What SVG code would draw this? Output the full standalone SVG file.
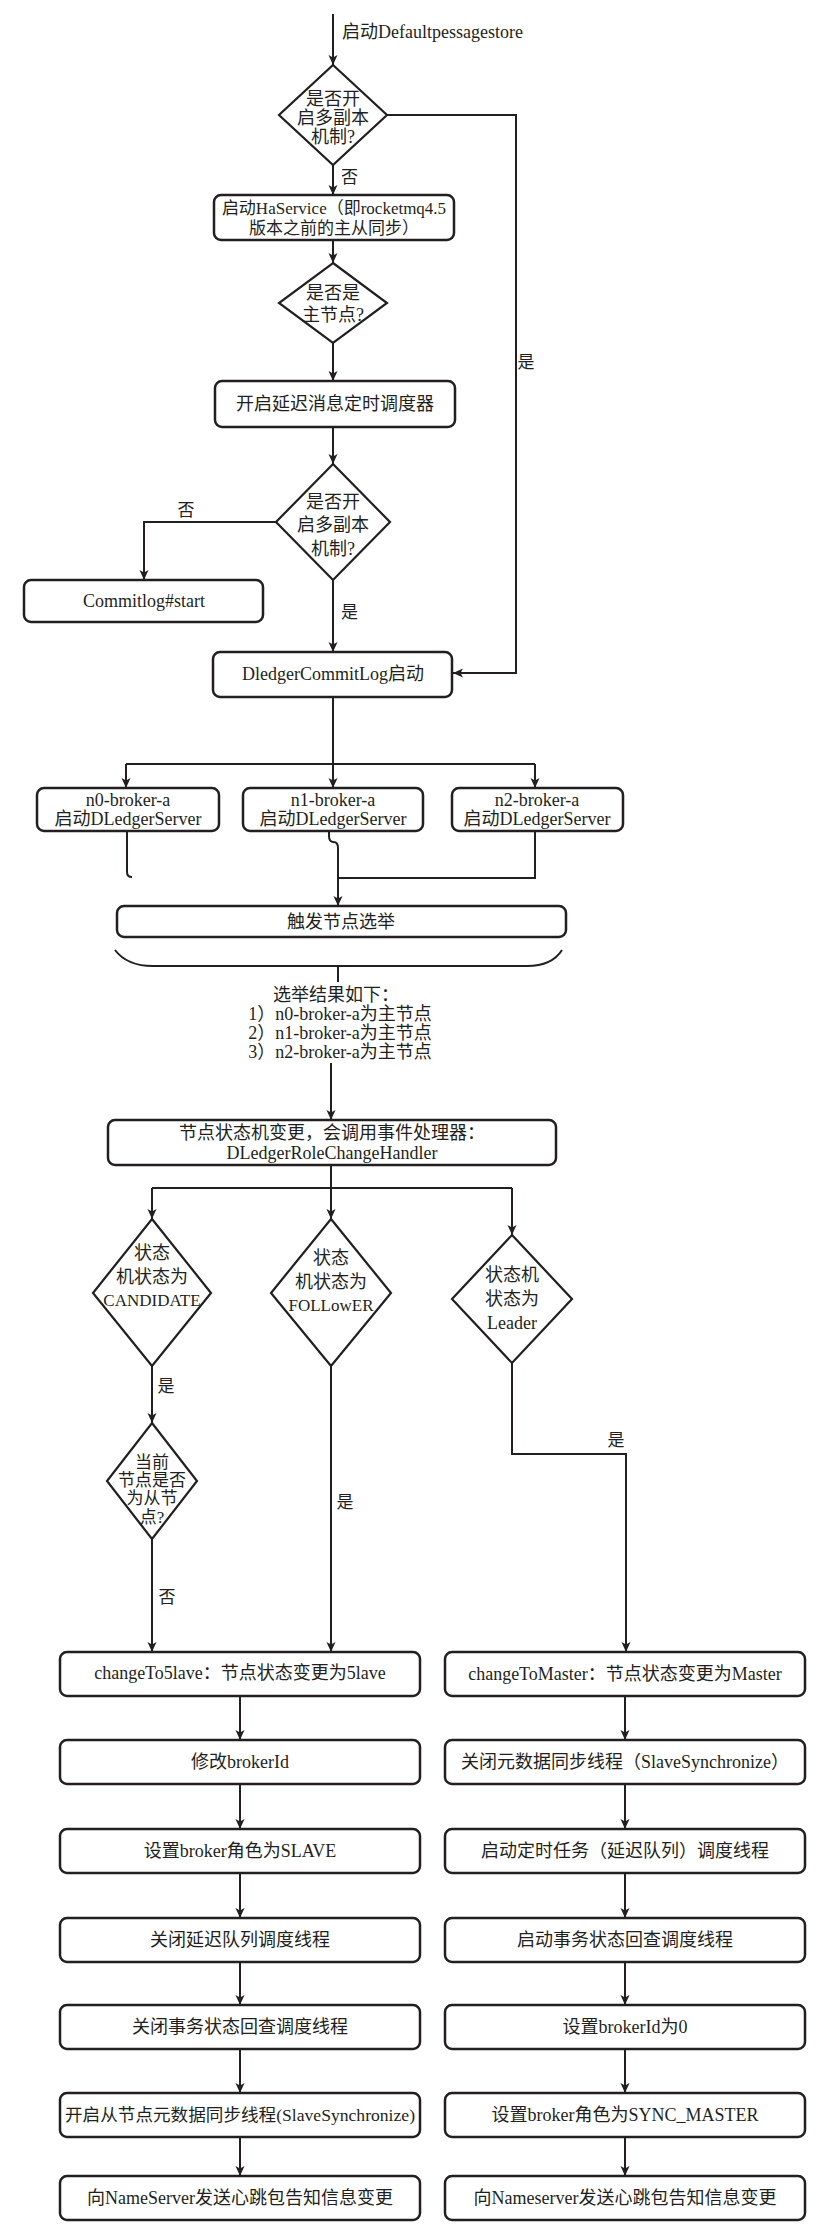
<svg xmlns="http://www.w3.org/2000/svg" width="824" height="2231" viewBox="0 0 824 2231">
<defs>
<marker id="ah" markerUnits="userSpaceOnUse" markerWidth="12" markerHeight="12" refX="10" refY="5" orient="auto">
<path d="M0,0.5 L10,5 L0,9.5 L2.5,5 Z" fill="#231f20"/>
</marker>
<style>
text{font-family:"Liberation Serif","Noto Sans CJK SC",serif;font-size:18px;fill:#231f20;dominant-baseline:central;text-anchor:middle}
.s{text-anchor:start}
.l{font-size:17px}
.box{fill:#fff;stroke:#231f20;stroke-width:2.5}
.dia{fill:#fff;stroke:#231f20;stroke-width:2.2}
.c{fill:none;stroke:#231f20;stroke-width:2}
.ca{fill:none;stroke:#231f20;stroke-width:2;marker-end:url(#ah)}
</style>
</defs>
<rect width="824" height="2231" fill="#fff"/>

<g id="connectors">
<path class="ca" d="M333,14 V65"/>
<path class="ca" d="M333,165 V195"/>
<path class="ca" d="M333,240 V263"/>
<path class="ca" d="M333,343 V381"/>
<path class="ca" d="M333,427 V464"/>
<path class="ca" d="M276,522 H144 V580"/>
<path class="ca" d="M333,580 V652"/>
<path class="ca" d="M387,115 H516 V673 H453"/>
<path class="c" d="M333,697 V764"/>
<path class="c" d="M126,764 H535"/>
<path class="ca" d="M126,764 V788"/>
<path class="ca" d="M333,764 V788"/>
<path class="ca" d="M535,764 V788"/>
<path class="c" d="M127,831 V872 Q127,877 132,877"/>
<path class="ca" d="M329,831 V836 Q329,842 333.5,842 Q338,842 338,848 V906"/>
<path class="c" d="M535,831 V878 H338"/>
<path class="c" d="M115,950 Q127,966 153,966 H527 Q552,966 562,950"/>
<path class="c" d="M338,966 V982"/>
<path class="ca" d="M331,1063 V1120"/>
<path class="c" d="M331,1165 V1188"/>
<path class="c" d="M152,1188 H512"/>
<path class="ca" d="M152,1188 V1219"/>
<path class="ca" d="M331,1188 V1219"/>
<path class="ca" d="M512,1188 V1235"/>
<path class="ca" d="M152,1366 V1423"/>
<path class="ca" d="M152,1539 V1652"/>
<path class="ca" d="M331,1366 V1652"/>
<path class="ca" d="M512,1363 V1454 H626 V1652"/>
<path class="ca" d="M240,1696 V1740"/>
<path class="ca" d="M240,1784 V1829"/>
<path class="ca" d="M240,1873 V1918"/>
<path class="ca" d="M240,1962 V2005"/>
<path class="ca" d="M240,2049 V2093"/>
<path class="ca" d="M240,2137 V2176"/>
<path class="ca" d="M625,1696 V1740"/>
<path class="ca" d="M625,1784 V1829"/>
<path class="ca" d="M625,1873 V1918"/>
<path class="ca" d="M625,1962 V2005"/>
<path class="ca" d="M625,2049 V2093"/>
<path class="ca" d="M625,2137 V2176"/>
<text class="s" x="342" y="32">启动Defaultpessagestore</text>
<text class="s l" x="341" y="177">否</text>
<text class="l" x="186" y="510">否</text>
<text class="s l" x="341" y="612">是</text>
<text class="l" x="526" y="362">是</text>
<text class="l" x="166" y="1386">是</text>
<text class="l" x="167" y="1597">否</text>
<text class="l" x="345" y="1502">是</text>
<text class="l" x="616" y="1440">是</text>
</g>

<g id="d1">
<polygon class="dia" points="333,65 387,115 333,165 279,115"/>
<text x="333" y="99">是否开</text>
<text x="333" y="118">启多副本</text>
<text x="333" y="137">机制?</text>
</g>
<g id="haservice">
<rect class="box" x="214" y="195" width="240" height="45" rx="7"/>
<text class="l" x="334" y="208">启动HaService（即rocketmq4.5</text>
<text class="l" x="334" y="228">版本之前的主从同步）</text>
</g>
<g id="d2">
<polygon class="dia" points="333,263 387,303 333,343 279,303"/>
<text x="333" y="293">是否是</text>
<text x="333" y="315">主节点?</text>
</g>
<g id="delay">
<rect class="box" x="215" y="381" width="240" height="46" rx="7"/>
<text x="335" y="404">开启延迟消息定时调度器</text>
</g>
<g id="d3">
<polygon class="dia" points="333,464 390,522 333,580 276,522"/>
<text x="333" y="502">是否开</text>
<text x="333" y="525">启多副本</text>
<text x="333" y="549">机制?</text>
</g>
<g id="commitlog">
<rect class="box" x="24" y="580" width="239" height="42" rx="7"/>
<text x="144" y="601">Commitlog#start</text>
</g>
<g id="dledger">
<rect class="box" x="213" y="652" width="239" height="45" rx="7"/>
<text x="333" y="674">DledgerCommitLog启动</text>
</g>
<g id="n0">
<rect class="box" x="37" y="788" width="182" height="43" rx="7"/>
<text x="128" y="800">n0-broker-a</text>
<text x="128" y="819">启动DLedgerServer</text>
</g>
<g id="n1">
<rect class="box" x="243" y="788" width="180" height="43" rx="7"/>
<text x="333" y="800">n1-broker-a</text>
<text x="333" y="819">启动DLedgerServer</text>
</g>
<g id="n2">
<rect class="box" x="452" y="788" width="171" height="43" rx="7"/>
<text x="537" y="800">n2-broker-a</text>
<text x="537" y="819">启动DLedgerServer</text>
</g>
<g id="elect">
<rect class="box" x="117" y="906" width="449" height="31" rx="7"/>
<text x="341" y="922">触发节点选举</text>
</g>
<g id="result">
<text x="336" y="995">选举结果如下：</text>
<text x="340" y="1014">1）n0-broker-a为主节点</text>
<text x="340" y="1033">2）n1-broker-a为主节点</text>
<text x="340" y="1052">3）n2-broker-a为主节点</text>
</g>
<g id="rolechange">
<rect class="box" x="108" y="1120" width="448" height="45" rx="7"/>
<text x="332" y="1133">节点状态机变更，会调用事件处理器：</text>
<text x="332" y="1153">DLedgerRoleChangeHandler</text>
</g>
<g id="da">
<polygon class="dia" points="152,1219 211,1293 152,1366 93,1293"/>
<text x="152" y="1253">状态</text>
<text x="152" y="1277">机状态为</text>
<text class="l" x="152" y="1300">CANDIDATE</text>
</g>
<g id="db">
<polygon class="dia" points="331,1219 391,1293 331,1366 271,1293"/>
<text x="331" y="1258">状态</text>
<text x="331" y="1282">机状态为</text>
<text class="l" x="331" y="1305">FOLLowER</text>
</g>
<g id="dc">
<polygon class="dia" points="512,1235 572,1299 512,1363 452,1299"/>
<text x="512" y="1275">状态机</text>
<text x="512" y="1299">状态为</text>
<text x="512" y="1323">Leader</text>
</g>
<g id="dd">
<polygon class="dia" points="152,1423 197,1481 152,1539 107,1481"/>
<text class="l" x="152" y="1462">当前</text>
<text class="l" x="152" y="1480">节点是否</text>
<text class="l" x="152" y="1498">为从节</text>
<text class="l" x="152" y="1517">点?</text>
</g>

<g id="l1"><rect class="box" x="60" y="1652" width="360" height="44" rx="7"/><text x="240" y="1673">changeTo5lave：节点状态变更为5lave</text></g>
<g id="l2"><rect class="box" x="60" y="1740" width="360" height="44" rx="7"/><text x="240" y="1762">修改brokerId</text></g>
<g id="l3"><rect class="box" x="60" y="1829" width="360" height="44" rx="7"/><text x="240" y="1851">设置broker角色为SLAVE</text></g>
<g id="l4"><rect class="box" x="60" y="1918" width="360" height="44" rx="7"/><text x="240" y="1940">关闭延迟队列调度线程</text></g>
<g id="l5"><rect class="box" x="60" y="2005" width="360" height="44" rx="7"/><text x="240" y="2027">关闭事务状态回查调度线程</text></g>
<g id="l6"><rect class="box" x="60" y="2093" width="360" height="44" rx="7"/><text class="l" x="240" y="2115" textLength="350" lengthAdjust="spacingAndGlyphs">开启从节点元数据同步线程(SlaveSynchronize)</text></g>
<g id="l7"><rect class="box" x="60" y="2176" width="360" height="44" rx="7"/><text x="240" y="2198">向NameServer发送心跳包告知信息变更</text></g>

<g id="r1"><rect class="box" x="445" y="1652" width="360" height="44" rx="7"/><text x="625" y="1674">changeToMaster：节点状态变更为Master</text></g>
<g id="r2"><rect class="box" x="445" y="1740" width="360" height="44" rx="7"/><text x="625" y="1762">关闭元数据同步线程（SlaveSynchronize）</text></g>
<g id="r3"><rect class="box" x="445" y="1829" width="360" height="44" rx="7"/><text x="625" y="1851">启动定时任务（延迟队列）调度线程</text></g>
<g id="r4"><rect class="box" x="445" y="1918" width="360" height="44" rx="7"/><text x="625" y="1940">启动事务状态回查调度线程</text></g>
<g id="r5"><rect class="box" x="445" y="2005" width="360" height="44" rx="7"/><text x="625" y="2027">设置brokerId为0</text></g>
<g id="r6"><rect class="box" x="445" y="2093" width="360" height="44" rx="7"/><text x="625" y="2115">设置broker角色为SYNC_MASTER</text></g>
<g id="r7"><rect class="box" x="445" y="2176" width="360" height="44" rx="7"/><text x="625" y="2198">向Nameserver发送心跳包告知信息变更</text></g>
</svg>
